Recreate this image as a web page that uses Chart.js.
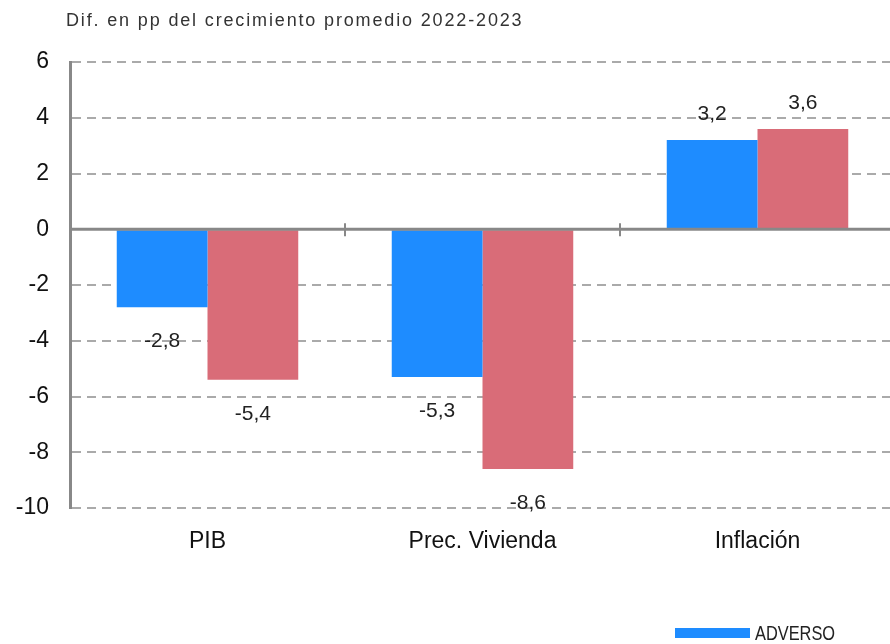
<!DOCTYPE html>
<html>
<head>
<meta charset="utf-8">
<script src="https://cdn.jsdelivr.net/npm/chart.js@4.4.0/dist/chart.umd.min.js"></script>
<style>
  html, body { margin: 0; padding: 0; background: #fff; overflow: hidden; }
  #wrap { width: 900px; height: 644px; }
</style>
</head>
<body>
<div id="wrap"><canvas id="chart" width="900" height="644"></canvas></div>
<script>
const categories = ['PIB', 'Prec. Vivienda', 'Inflación'];
const adverso = [-2.8, -5.3, 3.2];
const severo = [-5.4, -8.6, 3.6];
const seriesNames = ['ADVERSO', 'SEVERO'];
const yTicks = [6, 4, 2, 0, -2, -4, -6, -8, -10];
const titleText = 'Dif. en pp del crecimiento promedio 2022-2023';

const blue = '#1E8CFF';
const red = '#D96C78';
const fontFamily = "'Liberation Sans', Arial, Helvetica, sans-serif";

const extras = {
  id: 'extras',
  afterDatasetsDraw(chart) {
    const ctx = chart.ctx;
    const y = chart.scales.y;
    const area = chart.chartArea;
    ctx.save();

    // zero line
    const y0 = y.getPixelForValue(0);
    ctx.strokeStyle = '#888';
    ctx.lineWidth = 3;
    ctx.beginPath();
    ctx.moveTo(area.left, y0);
    ctx.lineTo(area.right, y0);
    ctx.stroke();

    // tick marks between categories
    ctx.lineWidth = 2;
    const step = (area.right - area.left) / categories.length;
    for (let i = 1; i < categories.length; i++) {
      const tx = Math.round(area.left + step * i);
      ctx.beginPath();
      ctx.moveTo(tx, y0 - 6);
      ctx.lineTo(tx, y0 + 7);
      ctx.stroke();
    }

    // value labels
    ctx.font = '21px ' + fontFamily;
    ctx.fillStyle = '#222';
    ctx.textAlign = 'center';
    ctx.textBaseline = 'middle';
    chart.data.datasets.forEach((ds, di) => {
      chart.getDatasetMeta(di).data.forEach((bar, i) => {
        const v = ds.data[i];
        const ly = v < 0 ? bar.y + 34 : bar.y - 26;
        ctx.fillText(v.toFixed(1).replace('.', ','), bar.x, ly);
      });
    });

    // title
    ctx.font = '18px ' + fontFamily;
    ctx.letterSpacing = '1.85px';
    ctx.fillStyle = '#333';
    ctx.textAlign = 'left';
    ctx.fillText(titleText, 66, 21);
    ctx.letterSpacing = '0px';

    // legend (only first item falls inside the visible area)
    ctx.fillStyle = chart.data.datasets[0].backgroundColor;
    ctx.fillRect(675, 628, 75, 10);
    ctx.font = '21px ' + fontFamily;
    ctx.fillStyle = '#222';
    ctx.translate(755, 634);
    ctx.scale(0.78, 1);
    ctx.fillText(chart.data.datasets[0].label, 0, 0);
    ctx.restore();
  }
};

new Chart(document.getElementById('chart'), {
  type: 'bar',
  data: {
    labels: categories,
    datasets: [
      { label: seriesNames[0], data: adverso, backgroundColor: blue },
      { label: seriesNames[1], data: severo, backgroundColor: red }
    ]
  },
  options: {
    responsive: false,
    animation: false,
    layout: { padding: { top: 62, right: 5, left: 0, bottom: 0 } },
    datasets: { bar: { categoryPercentage: 0.66, barPercentage: 1 } },
    scales: {
      x: {
        grid: { display: false },
        border: { display: false },
        ticks: { color: '#111', font: { size: 23, family: fontFamily }, padding: 12 },
        afterFit(scale) { scale.height = 136; }
      },
      y: {
        min: -10,
        max: 6,
        afterBuildTicks(scale) { scale.ticks = yTicks.map(v => ({ value: v })); },
        grid: {
          color: ctx => (ctx.tick && ctx.tick.value === 0) ? 'rgba(0,0,0,0)' : '#aaa',
          lineWidth: 2,
          drawTicks: false
        },
        border: { display: true, color: '#888', width: 3, dash: [9, 6] },
        ticks: { color: '#111', font: { size: 23, family: fontFamily }, padding: 21 },
        afterFit(scale) { scale.width = 70; }
      }
    },
    plugins: {
      legend: { display: false },
      tooltip: { enabled: false }
    }
  },
  plugins: [extras]
});
</script>
</body>
</html>
